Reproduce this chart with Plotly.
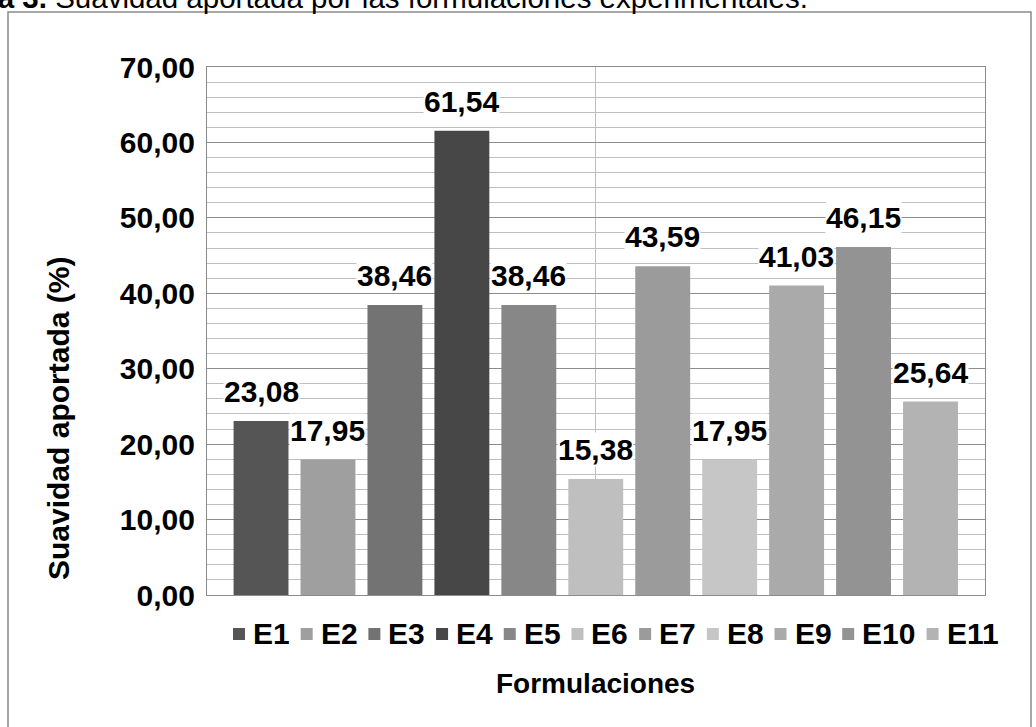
import plotly.graph_objects as go

# Suavidad aportada por cada formulación experimental (%)
formulaciones = ["E1", "E2", "E3", "E4", "E5", "E6", "E7", "E8", "E9", "E10", "E11"]
suavidad = [23.08, 17.95, 38.46, 61.54, 38.46, 15.38, 43.59, 17.95, 41.03, 46.15, 25.64]
colores = ["#555555", "#9f9f9f", "#737373", "#474747", "#878787", "#bfbfbf",
           "#9b9b9b", "#c6c6c6", "#aaaaaa", "#939393", "#b3b3b3"]
y_ticks = [0, 10, 20, 30, 40, 50, 60, 70]

W, H = 1036, 727
ML, MR, MT, MB = 207, 51, 67, 132
PW, PH = W - ML - MR, H - MT - MB
FONT = "Arial, Liberation Sans, sans-serif"


def px_x(px):
    return (px - ML) / PW


def px_y(py):
    return (H - MB - py) / PH


def fmt(v):
    return f"{v:.2f}".replace(".", ",")


fig = go.Figure()
for name, val, col in zip(formulaciones, suavidad, colores):
    fig.add_trace(go.Bar(x=[name], y=[val], name=name, marker_color=col,
                         marker_line_width=0, width=0.82, showlegend=False))

annotations = []
# data labels above each bar
for name, val in zip(formulaciones, suavidad):
    annotations.append(dict(x=name, y=val, xref="x", yref="y", text=fmt(val),
                            showarrow=False, xanchor="center", yanchor="bottom", yshift=12,
                            bgcolor="white", borderpad=0,
                            font=dict(family=FONT, size=30, color="black", weight="bold")))

# legend row drawn beneath the axis
shapes = []
leg_font = 30
sq = 12
x_cur = 233
leg_y = 633
for name, col in zip(formulaciones, colores):
    shapes.append(dict(type="rect", xref="paper", yref="paper",
                       x0=px_x(x_cur), x1=px_x(x_cur + sq),
                       y0=px_y(leg_y + sq / 2 + 1), y1=px_y(leg_y - sq / 2 + 1),
                       fillcolor=col, line_width=0))
    tw = leg_font * (0.667 + 0.556 * (len(name) - 1))
    annotations.append(dict(x=px_x(x_cur + sq + 6), y=px_y(leg_y), xref="paper", yref="paper",
                            text=name, showarrow=False, xanchor="left", yanchor="middle",
                            font=dict(family=FONT, size=leg_font, color="black", weight="bold")))
    x_cur += sq + 6 + tw + 13

# axis titles
annotations.append(dict(x=px_x(595), y=px_y(683), xref="paper", yref="paper",
                        text="Formulaciones", showarrow=False,
                        xanchor="center", yanchor="middle",
                        font=dict(family=FONT, size=28, color="black", weight="bold")))
annotations.append(dict(x=px_x(58), y=px_y(419), xref="paper", yref="paper",
                        text="Suavidad aportada (%)", showarrow=False, textangle=-90,
                        xanchor="center", yanchor="middle",
                        font=dict(family=FONT, size=30, color="black", weight="bold")))
# caption line at the top edge
annotations.append(dict(x=px_x(810), y=px_y(-3), xref="paper", yref="paper",
                        text="<b>Figura 3.</b> Suavidad aportada por las formulaciones experimentales.",
                        showarrow=False, xanchor="right", yanchor="middle",
                        font=dict(family=FONT, size=29.5, color="black")))

# outer chart frame
shapes.append(dict(type="rect", xref="paper", yref="paper",
                   x0=px_x(8), x1=px_x(1031), y0=px_y(760), y1=px_y(12),
                   line=dict(color="#8a8a8a", width=1.5), fillcolor="rgba(0,0,0,0)",
                   layer="below"))

fig.update_layout(
    width=W, height=H,
    margin=dict(l=ML, r=MR, t=MT, b=MB),
    paper_bgcolor="white", plot_bgcolor="white",
    separators=",.",
    barmode="overlay",
    annotations=annotations,
    shapes=shapes,
    showlegend=False,
)
fig.update_xaxes(
    type="category", range=[-0.807, 10.814],
    tickvals=[formulaciones[5]], showticklabels=False, ticks="",
    showgrid=True, gridcolor="#bdbdbd", gridwidth=1,
    showline=True, linecolor="#8c8c8c", linewidth=1.3, mirror=True,
    zeroline=False,
)
fig.update_yaxes(
    range=[0, 70], tickvals=y_ticks, tickformat=".2f",
    showgrid=True, gridcolor="#8c8c8c", gridwidth=1.3,
    minor=dict(dtick=2, showgrid=True, gridcolor="#bfbfbf", gridwidth=1.3),
    showline=True, linecolor="#8c8c8c", linewidth=1.3, mirror=True,
    zeroline=False, ticks="", ticklabelstandoff=5,
    tickfont=dict(family=FONT, size=30, color="black", weight="bold"),
)

fig.write_html("out.html")
